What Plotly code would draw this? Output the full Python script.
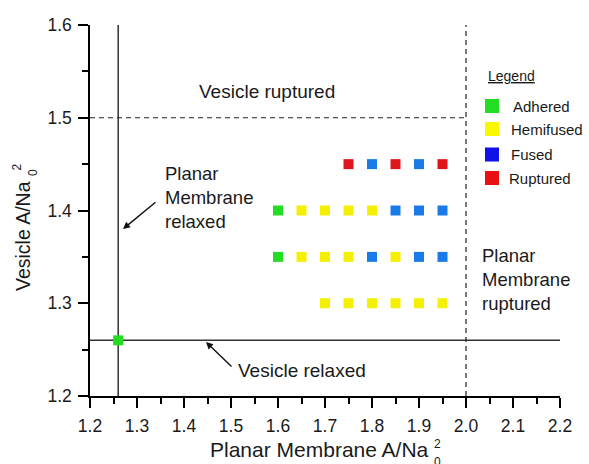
import plotly.graph_objects as go

# ---- data ----
adhered_x = [1.26, 1.60, 1.60]
adhered_y = [1.26, 1.40, 1.35]

hemifused_x = [1.65, 1.70, 1.75, 1.80,
               1.65, 1.70, 1.75, 1.85,
               1.70, 1.75, 1.80, 1.85, 1.90, 1.95]
hemifused_y = [1.40, 1.40, 1.40, 1.40,
               1.35, 1.35, 1.35, 1.35,
               1.30, 1.30, 1.30, 1.30, 1.30, 1.30]

fused_x = [1.80, 1.90, 1.85, 1.90, 1.95, 1.80, 1.90, 1.95]
fused_y = [1.45, 1.45, 1.40, 1.40, 1.40, 1.35, 1.35, 1.35]

ruptured_x = [1.75, 1.85, 1.95]
ruptured_y = [1.45, 1.45, 1.45]

planar_relaxed = 1.26
vesicle_relaxed = 1.26
vesicle_rupture = 1.5
planar_rupture = 2.0

x_range = [1.2, 2.2]
y_range = [1.2, 1.6]

legend_labels = ["Adhered", "Hemifused", "Fused", "Ruptured"]

# ---- style ----
FONT = "Liberation Sans, Arial, sans-serif"
TXT = "#1a1a1a"
c_green, c_yellow, c_blue, c_red = "#22dd22", "#f5f000", "#1a7ae8", "#e0151b"
leg_colors = ["#22dd22", "#f8f800", "#1010e8", "#e81010"]

W, H = 589, 464
L, R, T, B = 90, 29, 25, 68

fig = go.Figure()

# boundary lines
fig.add_trace(go.Scatter(x=[planar_relaxed, planar_relaxed], y=y_range, mode="lines",
                         line=dict(color="#333333", width=1.5), showlegend=False, hoverinfo="skip"))
fig.add_trace(go.Scatter(x=x_range, y=[vesicle_relaxed, vesicle_relaxed], mode="lines",
                         line=dict(color="#333333", width=1.5), showlegend=False, hoverinfo="skip"))
fig.add_trace(go.Scatter(x=[x_range[0], planar_rupture], y=[vesicle_rupture, vesicle_rupture], mode="lines",
                         line=dict(color="#222222", width=1.2, dash="5px,4px"), showlegend=False, hoverinfo="skip"))
fig.add_trace(go.Scatter(x=[planar_rupture, planar_rupture], y=y_range, mode="lines",
                         line=dict(color="#222222", width=1.2, dash="5px,4px"), showlegend=False, hoverinfo="skip"))

for xs, ys, col, name in [(adhered_x, adhered_y, c_green, legend_labels[0]),
                          (hemifused_x, hemifused_y, c_yellow, legend_labels[1]),
                          (fused_x, fused_y, c_blue, legend_labels[2]),
                          (ruptured_x, ruptured_y, c_red, legend_labels[3])]:
    fig.add_trace(go.Scatter(x=xs, y=ys, mode="markers", name=name,
                             marker=dict(symbol="square", size=10, color=col, line=dict(width=0)),
                             showlegend=False, cliponaxis=False))

# pixel -> paper helpers (for layout placement only)
def pxp(px):
    return (px - L) / (W - L - R)

def pyp(py):
    return (H - B - py) / (H - T - B)

def txt(px, py, text, size, xanchor="left", yanchor="middle", align="left", angle=0):
    return dict(x=pxp(px), y=pyp(py), xref="paper", yref="paper", text=text, showarrow=False,
                xanchor=xanchor, yanchor=yanchor, align=align, textangle=angle,
                font=dict(family=FONT, size=size, color=TXT))

shapes = []
annotations = []

# ---- manual legend ----
annotations.append(txt(486, 76, "<u>Legend</u>", 14))
sw_y = [106, 129, 154.5, 178]
tx_x = [511, 509, 509, 507]
for i, lab in enumerate(legend_labels):
    shapes.append(dict(type="rect", xref="paper", yref="paper",
                       x0=pxp(485), x1=pxp(499), y0=pyp(sw_y[i] + 7), y1=pyp(sw_y[i] - 7),
                       fillcolor=leg_colors[i], line=dict(width=0)))
    annotations.append(txt(tx_x[i], sw_y[i], lab, 15))

# region labels
annotations += [
    txt(267, 91, "Vesicle ruptured", 19, xanchor="center"),
    txt(163, 197, "Planar<br>Membrane<br>relaxed", 18.5),
    txt(480, 279, "Planar<br>Membrane<br>ruptured", 18.5),
    txt(236, 370, "Vesicle relaxed", 19),
]
# arrows
annotations += [
    dict(x=pxp(123), y=pyp(229), xref="paper", yref="paper", ax=34, ay=-28, text="", showarrow=True,
         arrowhead=2, arrowsize=1, arrowwidth=1.4, arrowcolor="#111111"),
    dict(x=pxp(206), y=pyp(342), xref="paper", yref="paper", ax=27, ay=26, text="", showarrow=True,
         arrowhead=2, arrowsize=1, arrowwidth=1.4, arrowcolor="#111111"),
]

# axis titles (with stacked sub/superscript)
annotations += [
    txt(431, 449, "Planar Membrane A/Na", 21, xanchor="right"),
    txt(432, 444, "2", 12),
    txt(432, 462, "0", 12),
    txt(23, 236, "Vesicle A/Na", 19.5, xanchor="center", angle=-90),
    txt(16.5, 167, "2", 12, xanchor="center", angle=-90),
    txt(32.5, 172.5, "0", 12, xanchor="center", angle=-90),
]

axis_common = dict(
    showgrid=False, zeroline=False, showline=True, linecolor="black", linewidth=1.5,
    ticks="outside", tickwidth=1.5, tickcolor="black", ticklen=10, dtick=0.1,
    tickformat=".1f", tickfont=dict(family=FONT, size=17.5, color=TXT), automargin=False,
    minor=dict(ticks="outside", dtick=0.05, ticklen=6, tickwidth=1.5, tickcolor="black"),
)

fig.update_layout(
    width=W, height=H,
    margin=dict(l=L, r=R, t=T, b=B),
    paper_bgcolor="white", plot_bgcolor="white",
    showlegend=False,
    xaxis=dict(range=x_range, tick0=1.2, ticklabelstandoff=3, **axis_common),
    yaxis=dict(range=y_range, tick0=1.2, ticklabelstandoff=3, **axis_common),
    shapes=shapes,
    annotations=annotations,
)

fig.write_html("out.html", config={"displayModeBar": False},
               post_script="document.body.style.margin='0';")
